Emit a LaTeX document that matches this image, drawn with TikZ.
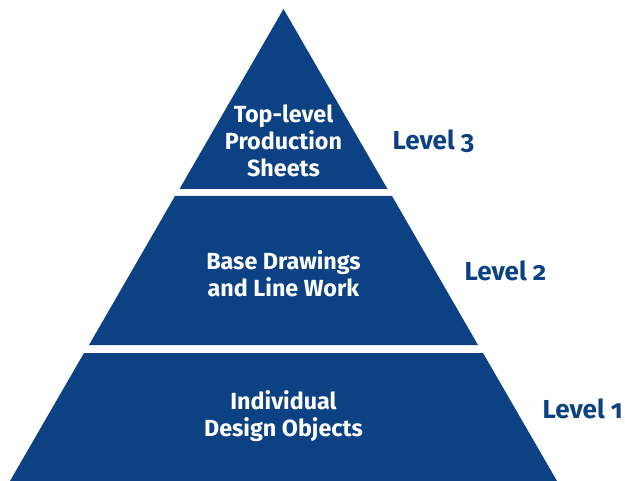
\documentclass[tikz,border=0pt]{standalone}
\usepackage{fontspec}
\setmainfont{Fira Sans}[Numbers=OldStyle]
\usetikzlibrary{positioning}
\definecolor{pyrblue}{RGB}{12,66,132}
\tikzset{
    layer/.style={fill=pyrblue},
    layertext/.style={text=white, font=\bfseries\fontsize{17.5}{20.5}\selectfont, align=center},
    levellabel/.style={text=pyrblue, font=\bfseries\fontsize{19.5}{22}\selectfont, anchor=west},
}

\begin{document}
\begin{tikzpicture}[x=0.75pt, y=-0.75pt]
            \useasboundingbox (0,0) rectangle (625,481);

            % Level 3 (top)
            \fill[layer] (283.5,9) -- (387.5,189) -- (179.5,189) -- cycle;
            \node[layertext] (top) at (283.5,141) {Top-level\\Production\\Sheets};
            \node[levellabel] (lvlthree) at (388,141) {Level 3};

            % Level 2 (middle)
            \fill[layer] (175,196) -- (392,196) -- (478,345) -- (89,345) -- cycle;
            \node[layertext] (base) at (283.5,274) {Base Drawings\\and Line Work};
            \node[levellabel] (lvltwo) at (460,271) {Level 2};

            % Level 1 (bottom)
            \fill[layer] (84,353) -- (483,353) -- (557,481) -- (10,481) -- cycle;
            \node[layertext] (objects) at (283.5,416) {Individual\\Design Objects};
            \node[levellabel] (lvlone) at (538,409) {Level 1};

        \end{tikzpicture}
\end{document}
